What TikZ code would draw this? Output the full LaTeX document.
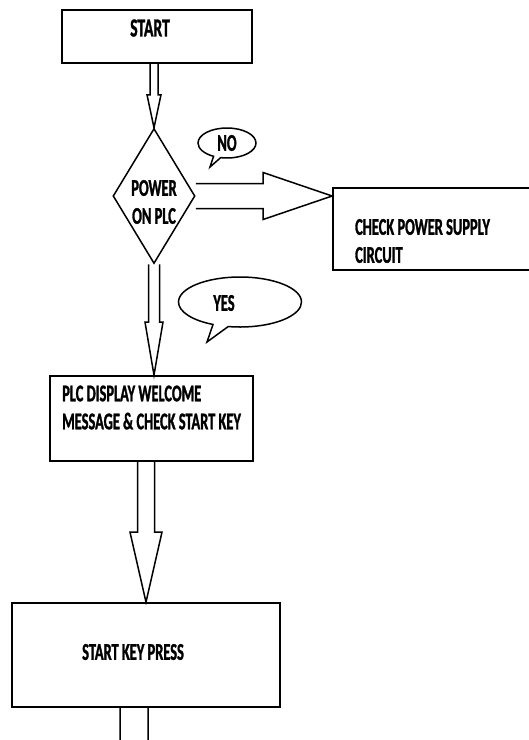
\documentclass[tikz,border=0pt]{standalone}
\usepackage{fontspec}
\newfontfamily\flowfont[FakeStretch=0.6, FakeBold=1.2]{Carlito}
\usetikzlibrary{calc,shapes.geometric,shapes.callouts}

% block arrows: #1 start, #2 tip, #3 shaft half width, #4 head half width, #5 head length
\newcommand\downblock[5]{%
  \draw[blockline] let \p1=#1, \p2=#2 in
    (\x2-#3,\y1) -- (\x2-#3,\y2+#5) -- (\x2-#4,\y2+#5) -- (\x2,\y2)
    -- (\x2+#4,\y2+#5) -- (\x2+#3,\y2+#5) -- (\x2+#3,\y1);}
\newcommand\rightblock[5]{%
  \draw[blockline] let \p1=#1, \p2=#2 in
    (\x1,\y2+#3) -- (\x2-#5,\y2+#3) -- (\x2-#5,\y2+#4) -- (\x2,\y2)
    -- (\x2-#5,\y2-#4) -- (\x2-#5,\y2-#3) -- (\x1,\y2-#3);}

\tikzset{
  box/.style={draw, line width=1.8pt, rectangle, inner sep=0pt},
  decision/.style={draw, line width=1.5pt, diamond, inner sep=0pt},
  bubble/.style={draw, line width=1.5pt, ellipse callout, inner sep=0pt},
  boxtext/.style={font=\flowfont\bfseries\fontsize{24}{28}\selectfont, align=left, inner sep=0pt},
  blockline/.style={line width=1.5pt, line join=miter},
}

\begin{document}
\begin{tikzpicture}[x=1pt, y=-1pt]
\useasboundingbox (0,0) rectangle (529,740);
\clip (0,0) rectangle (529,740);
% boxes
\node[box, minimum width=190pt, minimum height=53pt] (start) at (157,36.5) {};
\node[decision, minimum width=82pt, minimum height=135pt] (power) at (154,196) {};
\node[box, minimum width=230pt, minimum height=82pt] (check) at (448,229) {};
\node[box, minimum width=203pt, minimum height=85pt] (plc) at (151.5,418.5) {};
\node[box, minimum width=268pt, minimum height=104pt] (keypress) at (146,655) {};
\coordinate (exit) at (134,790);
% texts
\node[boxtext, font=\flowfont\bfseries\fontsize{26}{28}\selectfont] (starttxt) at (150,28) {START};
\node[boxtext, align=center] (powertxt) at (154,202) {POWER\\ON PLC};
\node[boxtext, anchor=west] (checktxt) at (355,241) {CHECK POWER SUPPLY\\CIRCUIT};
\node[boxtext, anchor=west] (plctxt) at (62,407.5) {PLC DISPLAY WELCOME\\MESSAGE \& CHECK START KEY};
\node[boxtext, anchor=west] (presstxt) at (82,652) {START KEY PRESS};
% bubbles
\node[bubble, minimum width=58pt, minimum height=30pt, callout absolute pointer={(210,167)}] (nobubble) at (227,143) {};
\node[boxtext] (notxt) at (227,143) {NO};
\node[bubble, minimum width=123pt, minimum height=50pt, callout absolute pointer={(207,342)}] (yesbubble) at (240,302) {};
\node[boxtext] (yestxt) at (224,303) {YES};
% arrows
\downblock{(start.south)}{(power.north)}{4pt}{7pt}{33pt}
\rightblock{(power.east)}{(check.west |- power.east)}{12.5pt}{23.5pt}{69pt}
\downblock{(power.south)}{(power.south |- plc.north)}{5.5pt}{9pt}{53pt}
\downblock{(plc.south)}{(keypress.north)}{8.5pt}{16pt}{70pt}
\downblock{(keypress.south)}{(exit)}{14pt}{24pt}{30pt}
\end{tikzpicture}
\end{document}
